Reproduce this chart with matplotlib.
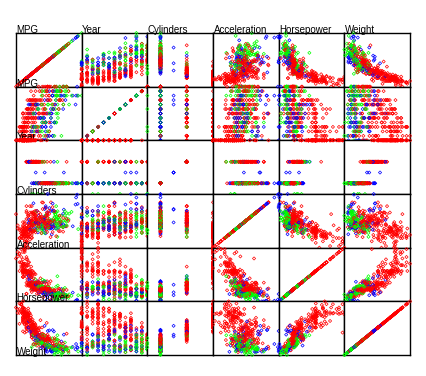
import matplotlib
matplotlib.use("Agg")
import matplotlib.pyplot as plt

# Car data, grouped by model year (origin: 1 = USA, 2 = Europe, 3 = Japan)
mpg = [
    18, 15, 18, 16, 17, 15, 14, 14, 14, 15, 15, 14, 15, 14, 24, 22, 18, 21, 27, 26, 25, 24, 25, 26, 21, 10, 10, 11, 9,
    27, 28, 25, 19, 16, 17, 19, 18, 14, 14, 14, 14, 12, 13, 13, 18, 22, 19, 18, 23, 28, 30, 30, 31, 35, 27, 26,
    24, 20, 21, 13, 14, 15, 14, 17, 11, 13, 12, 13, 19, 15, 13, 13, 14, 18, 22, 21, 26, 22, 28, 23, 28, 27,
    13, 14, 13, 14, 15, 12, 13, 13, 14, 13, 12, 13, 18, 16, 18, 18, 23, 26, 11, 12, 13, 12, 18, 20, 21, 22, 18, 19, 21, 26, 15, 16, 29, 24, 20, 19, 15, 24, 20, 11,
    20, 19, 15, 31, 26, 32, 25, 16, 16, 18, 16, 13, 14, 14, 14, 29, 26, 26, 31, 32, 28, 24, 26, 24, 26, 31,
    19, 18, 15, 15, 16, 15, 16, 14, 17, 16, 15, 18, 21, 20, 13, 29, 23, 20, 23, 24, 25, 24, 18, 29, 19, 23, 23, 22, 25, 33,
    28, 25, 25, 26, 27, 17.5, 16, 15.5, 14.5, 22, 22, 24, 22.5, 29, 24.5, 29, 33, 20, 18, 18.5, 17.5, 29.5, 32, 28, 26.5, 20, 13, 19, 19, 16.5, 16.5, 13, 13, 13,
    31.5, 30, 36, 25.5, 33.5, 17.5, 17, 15.5, 15, 17.5, 20.5, 19, 18.5, 16, 15.5, 15.5, 16, 29, 24.5, 26, 25.5, 30.5, 33.5, 30, 30.5, 22, 21.5, 21.5,
    43.1, 36.1, 32.8, 39.4, 36.1, 19.9, 19.4, 20.2, 19.2, 20.5, 20.2, 25.1, 20.5, 19.4, 20.6, 20.8, 18.6, 18.1, 19.2, 17.7, 18.1, 17.5, 30, 27.5, 27.2, 30.9, 21.1, 23.2, 23.8, 23.9, 20.3, 17, 21.6, 16.2, 31.5, 29.5,
    21.5, 19.8, 22.3, 20.2, 20.6, 17, 17.6, 16.5, 18.2, 16.9, 15.5, 19.2, 18.5, 31.9, 34.1, 35.7, 27.4, 25.4, 23, 27.2, 23.9, 34.2, 34.5, 31.8, 37.3, 28.4, 28.8, 26.8, 33.5,
    41.5, 38.1, 32.1, 37.2, 28, 26.4, 24.3, 19.1, 34.3, 29.8, 31.3, 37, 32.2, 46.6, 27.9, 40.8, 44.3, 43.4, 36.4, 30, 44.6, 33.8, 29.8, 32.7, 23.7, 35, 32.4,
    27.2, 26.6, 25.8, 23.5, 30, 39.1, 39, 35.1, 32.3, 37, 37.7, 34.1, 34.7, 34.4, 29.9, 33, 33.7, 32.4, 32.9, 31.6, 28.1, 30.7, 25.4, 24.2, 22.4, 26.6, 20.2, 17.6,
    28, 27, 34, 31, 29, 27, 24, 36, 37, 31, 38, 36, 36, 36, 34, 38, 32, 38, 25, 38, 26, 22, 32, 36, 27, 27, 44, 32, 28, 31,
]
year = [
    70, 70, 70, 70, 70, 70, 70, 70, 70, 70, 70, 70, 70, 70, 70, 70, 70, 70, 70, 70, 70, 70, 70, 70, 70, 70, 70, 70, 70,
    71, 71, 71, 71, 71, 71, 71, 71, 71, 71, 71, 71, 71, 71, 71, 71, 71, 71, 71, 71, 71, 71, 71, 71, 71, 71, 71,
    72, 72, 72, 72, 72, 72, 72, 72, 72, 72, 72, 72, 72, 72, 72, 72, 72, 72, 72, 72, 72, 72, 72, 72, 72, 72,
    73, 73, 73, 73, 73, 73, 73, 73, 73, 73, 73, 73, 73, 73, 73, 73, 73, 73, 73, 73, 73, 73, 73, 73, 73, 73, 73, 73, 73, 73, 73, 73, 73, 73, 73, 73, 73, 73, 73, 73,
    74, 74, 74, 74, 74, 74, 74, 74, 74, 74, 74, 74, 74, 74, 74, 74, 74, 74, 74, 74, 74, 74, 74, 74, 74, 74,
    75, 75, 75, 75, 75, 75, 75, 75, 75, 75, 75, 75, 75, 75, 75, 75, 75, 75, 75, 75, 75, 75, 75, 75, 75, 75, 75, 75, 75, 75,
    76, 76, 76, 76, 76, 76, 76, 76, 76, 76, 76, 76, 76, 76, 76, 76, 76, 76, 76, 76, 76, 76, 76, 76, 76, 76, 76, 76, 76, 76, 76, 76, 76, 76,
    77, 77, 77, 77, 77, 77, 77, 77, 77, 77, 77, 77, 77, 77, 77, 77, 77, 77, 77, 77, 77, 77, 77, 77, 77, 77, 77, 77,
    78, 78, 78, 78, 78, 78, 78, 78, 78, 78, 78, 78, 78, 78, 78, 78, 78, 78, 78, 78, 78, 78, 78, 78, 78, 78, 78, 78, 78, 78, 78, 78, 78, 78, 78, 78,
    79, 79, 79, 79, 79, 79, 79, 79, 79, 79, 79, 79, 79, 79, 79, 79, 79, 79, 79, 79, 79, 79, 79, 79, 79, 79, 79, 79, 79,
    80, 80, 80, 80, 80, 80, 80, 80, 80, 80, 80, 80, 80, 80, 80, 80, 80, 80, 80, 80, 80, 80, 80, 80, 80, 80, 80,
    81, 81, 81, 81, 81, 81, 81, 81, 81, 81, 81, 81, 81, 81, 81, 81, 81, 81, 81, 81, 81, 81, 81, 81, 81, 81, 81, 81,
    82, 82, 82, 82, 82, 82, 82, 82, 82, 82, 82, 82, 82, 82, 82, 82, 82, 82, 82, 82, 82, 82, 82, 82, 82, 82, 82, 82, 82, 82,
]
cylinders = [
    8, 8, 8, 8, 8, 8, 8, 8, 8, 8, 8, 8, 8, 8, 4, 6, 6, 6, 4, 4, 4, 4, 4, 4, 6, 8, 8, 8, 8,
    4, 4, 4, 6, 6, 6, 6, 6, 8, 8, 8, 8, 8, 8, 8, 6, 4, 6, 6, 4, 4, 4, 4, 4, 4, 4, 4,
    4, 4, 4, 8, 8, 8, 8, 8, 8, 8, 8, 8, 3, 8, 8, 8, 8, 4, 4, 4, 4, 4, 4, 4, 4, 4,
    8, 8, 8, 8, 8, 8, 8, 8, 8, 8, 8, 8, 6, 6, 6, 6, 6, 4, 8, 8, 8, 8, 6, 4, 4, 4, 3, 4, 6, 4, 8, 8, 4, 4, 4, 4, 8, 4, 6, 8,
    6, 6, 6, 4, 4, 4, 4, 6, 6, 6, 8, 8, 8, 8, 8, 4, 4, 4, 4, 4, 4, 4, 4, 4, 4, 4,
    6, 6, 6, 6, 8, 8, 8, 8, 6, 6, 6, 6, 6, 8, 8, 4, 4, 6, 4, 4, 4, 4, 6, 4, 6, 4, 4, 4, 4, 4,
    4, 4, 4, 4, 4, 8, 8, 8, 8, 6, 6, 6, 6, 4, 4, 4, 4, 6, 6, 6, 6, 4, 4, 4, 4, 4, 8, 4, 6, 6, 8, 8, 8, 8,
    4, 4, 4, 4, 4, 8, 8, 8, 8, 6, 6, 6, 6, 8, 8, 8, 8, 4, 4, 4, 4, 4, 4, 4, 4, 6, 4, 3,
    4, 4, 4, 4, 4, 8, 8, 8, 6, 6, 6, 4, 6, 6, 6, 6, 6, 6, 8, 6, 8, 8, 4, 4, 4, 4, 4, 4, 4, 4, 5, 6, 4, 6, 4, 4,
    6, 6, 4, 6, 6, 8, 8, 8, 8, 8, 8, 8, 8, 4, 4, 4, 4, 5, 8, 4, 8, 4, 4, 4, 4, 4, 6, 6, 4,
    4, 4, 4, 4, 4, 4, 4, 6, 4, 4, 4, 4, 4, 4, 4, 4, 4, 4, 5, 4, 4, 4, 4, 6, 3, 4, 4,
    4, 4, 4, 6, 4, 4, 4, 4, 4, 4, 4, 4, 4, 4, 4, 4, 4, 4, 4, 4, 4, 6, 6, 6, 6, 8, 6, 6,
    4, 4, 4, 4, 4, 4, 4, 4, 4, 4, 4, 4, 4, 4, 4, 4, 4, 4, 6, 6, 4, 6, 4, 4, 4, 4, 4, 4, 4, 4,
]
acceleration = [
    12.0, 11.5, 11.0, 12.0, 10.5, 10.0, 9.0, 8.5, 10.0, 8.5, 10.0, 8.0, 9.5, 10.0, 15.0, 15.5, 15.5, 16.0, 14.5, 20.5, 17.5, 14.5, 17.5, 12.5, 15.0, 14.0, 15.0, 13.5, 18.5,
    14.5, 15.5, 14.0, 13.0, 15.5, 15.5, 15.5, 15.5, 12.0, 11.5, 13.5, 13.0, 11.5, 12.0, 12.0, 13.5, 19.0, 15.0, 14.5, 14.0, 14.0, 19.5, 14.5, 19.0, 18.0, 19.0, 20.5,
    15.5, 19.5, 16.5, 12.0, 12.0, 13.5, 13.0, 11.5, 11.0, 13.5, 13.5, 12.5, 13.5, 12.5, 14.0, 16.0, 14.0, 14.5, 18.0, 19.5, 18.0, 16.0, 17.0, 14.5, 15.0, 16.5,
    13.0, 11.5, 13.0, 14.5, 12.5, 11.5, 12.0, 13.0, 14.5, 11.0, 11.0, 11.0, 16.5, 18.0, 16.0, 16.5, 16.0, 21.0, 14.0, 12.5, 13.0, 12.5, 15.0, 19.0, 19.5, 16.5, 13.5, 18.5, 14.0, 15.5, 13.0, 9.5, 19.5, 15.5, 14.0, 15.5, 11.0, 14.0, 13.5, 11.0,
    16.5, 16.0, 17.0, 19.0, 16.5, 21.0, 17.0, 17.0, 18.0, 16.5, 14.0, 14.5, 13.5, 16.0, 15.5, 16.5, 15.5, 14.5, 16.5, 19.0, 14.5, 15.5, 14.0, 15.0, 15.5, 16.0,
    16.0, 16.0, 21.0, 19.5, 11.5, 14.0, 14.5, 13.5, 21.0, 18.5, 19.0, 19.0, 15.0, 13.5, 12.0, 16.0, 17.0, 16.0, 18.5, 13.5, 16.5, 17.0, 14.5, 14.0, 17.0, 15.0, 17.0, 14.5, 13.5, 17.5,
    15.5, 16.9, 14.9, 17.7, 15.3, 13.0, 13.0, 13.9, 12.8, 15.4, 14.5, 17.6, 17.6, 22.2, 22.1, 14.2, 17.4, 17.7, 21.0, 16.2, 17.8, 12.2, 17.0, 16.4, 13.6, 15.7, 13.2, 21.9, 15.5, 16.7, 12.1, 12.0, 15.0, 14.0,
    18.5, 14.8, 18.6, 15.5, 16.8, 12.5, 19.0, 13.7, 14.9, 16.4, 16.9, 17.7, 19.0, 11.1, 11.4, 12.2, 14.5, 14.5, 16.0, 18.2, 15.8, 17.0, 15.9, 16.4, 14.1, 14.5, 12.8, 13.5,
    21.5, 14.4, 19.4, 18.6, 16.4, 15.5, 13.2, 12.8, 19.2, 18.2, 15.8, 15.4, 17.2, 17.2, 15.8, 16.7, 18.7, 15.1, 13.2, 13.4, 11.2, 13.7, 16.5, 14.2, 14.7, 14.5, 14.8, 16.7, 17.6, 14.9, 15.9, 13.6, 15.7, 15.8, 14.9, 16.6,
    15.4, 18.2, 17.3, 18.2, 16.6, 15.4, 13.4, 13.2, 15.2, 14.9, 14.3, 15.0, 13.0, 14.0, 15.2, 14.4, 15.0, 20.1, 17.4, 24.8, 22.2, 13.2, 14.9, 19.2, 14.7, 16.0, 11.3, 12.9, 13.2,
    14.7, 18.8, 15.5, 16.4, 16.5, 18.1, 20.1, 18.7, 15.8, 15.5, 17.5, 15.0, 15.2, 17.9, 14.4, 19.2, 21.7, 23.7, 19.9, 21.8, 13.8, 18.0, 15.3, 11.4, 12.5, 15.1, 17.0,
    15.7, 16.4, 14.4, 12.6, 12.9, 16.9, 16.4, 16.1, 17.8, 19.4, 17.3, 16.0, 14.9, 16.2, 20.7, 14.2, 14.4, 16.8, 14.8, 18.3, 20.4, 19.6, 12.6, 13.8, 15.8, 19.0, 17.1, 16.6,
    19.6, 18.6, 18.0, 16.2, 16.0, 18.0, 16.4, 15.3, 18.2, 17.6, 14.7, 17.3, 14.5, 14.5, 16.9, 15.0, 15.7, 16.2, 16.4, 17.0, 14.5, 14.7, 13.9, 13.0, 17.3, 15.6, 24.6, 11.6, 18.6, 19.4,
]
horsepower = [
    130, 165, 150, 150, 140, 198, 220, 215, 225, 190, 170, 160, 150, 225, 95, 95, 97, 85, 88, 46, 87, 90, 95, 113, 90, 215, 200, 210, 193,
    88, 90, 95, 100, 105, 100, 88, 100, 165, 175, 153, 150, 180, 170, 175, 110, 72, 100, 88, 86, 90, 70, 76, 65, 69, 60, 70,
    95, 90, 86, 165, 175, 150, 153, 150, 208, 155, 160, 190, 97, 150, 130, 140, 150, 112, 76, 87, 69, 86, 92, 97, 80, 88,
    175, 150, 145, 137, 150, 198, 150, 158, 150, 215, 225, 175, 105, 100, 100, 88, 95, 46, 150, 167, 170, 180, 100, 88, 72, 94, 90, 85, 107, 90, 145, 230, 49, 75, 91, 112, 150, 110, 122, 180,
    95, 100, 100, 67, 80, 65, 75, 100, 110, 105, 140, 150, 150, 140, 150, 83, 67, 78, 52, 61, 75, 75, 75, 97, 93, 67,
    95, 105, 72, 72, 170, 145, 150, 148, 110, 105, 110, 95, 110, 110, 129, 75, 83, 100, 78, 96, 71, 97, 97, 70, 90, 95, 88, 98, 115, 53,
    86, 81, 92, 79, 83, 140, 150, 120, 152, 100, 105, 81, 90, 52, 60, 70, 53, 100, 78, 110, 95, 71, 70, 75, 72, 102, 150, 88, 108, 120, 180, 145, 130, 150,
    68, 80, 58, 96, 70, 145, 110, 145, 130, 110, 105, 100, 98, 180, 170, 190, 149, 78, 88, 75, 89, 63, 83, 67, 78, 97, 110, 110,
    48, 66, 52, 70, 60, 110, 140, 139, 105, 95, 85, 88, 100, 90, 105, 85, 110, 120, 145, 165, 139, 140, 68, 95, 97, 75, 95, 105, 85, 97, 103, 125, 115, 133, 71, 68,
    115, 85, 88, 90, 110, 130, 129, 138, 135, 155, 142, 125, 150, 71, 65, 80, 80, 77, 125, 71, 90, 70, 70, 65, 69, 90, 115, 115, 90,
    76, 60, 70, 65, 90, 88, 90, 90, 78, 90, 75, 92, 75, 65, 105, 65, 48, 48, 67, 67, 67, 67, 62, 132, 100, 88, 72,
    84, 84, 92, 110, 84, 58, 64, 60, 67, 65, 62, 68, 63, 65, 65, 74, 75, 75, 100, 74, 80, 76, 116, 120, 110, 105, 88, 85,
    88, 88, 88, 85, 84, 90, 92, 74, 68, 68, 63, 70, 88, 75, 70, 67, 67, 67, 110, 85, 92, 112, 96, 84, 90, 86, 52, 84, 79, 82,
]
weight = [
    3504, 3693, 3436, 3433, 3449, 4341, 4354, 4312, 4425, 3850, 3563, 3609, 3761, 3086, 2372, 2833, 2774, 2587, 2130, 1835, 2672, 2430, 2375, 2234, 2648, 4615, 4376, 4382, 4732,
    2130, 2264, 2228, 2634, 3439, 3329, 3302, 3288, 4209, 4464, 4154, 4096, 4955, 4746, 5140, 2962, 2408, 3282, 3139, 2220, 2123, 2074, 2065, 1773, 1613, 1834, 1955,
    2278, 2408, 2226, 4274, 4385, 4135, 4129, 3672, 4633, 4502, 4456, 4422, 2330, 3892, 4098, 4294, 4077, 2933, 2511, 2979, 2189, 2395, 2288, 2506, 2164, 2100,
    4100, 3672, 3988, 4042, 3777, 4952, 4464, 4363, 4237, 4735, 4951, 3821, 3121, 3278, 2945, 3021, 2904, 1950, 4997, 4906, 4654, 4499, 2789, 2279, 2401, 2379, 2124, 2310, 2472, 2265, 4082, 4278, 1867, 2158, 2582, 2868, 3399, 2660, 2807, 3664,
    3102, 2901, 3336, 1950, 2451, 1836, 2542, 3781, 3632, 3613, 4141, 4699, 4457, 4638, 4257, 2219, 1963, 2300, 1649, 2003, 2125, 2108, 2246, 2489, 2391, 2000,
    3264, 3459, 3432, 3158, 4668, 4440, 4498, 4657, 3907, 3897, 3730, 3785, 3039, 3221, 3169, 2171, 2639, 2914, 2592, 2702, 2223, 2545, 2984, 1937, 3211, 2694, 2957, 2945, 2671, 1795,
    2464, 2220, 2572, 2255, 2202, 4215, 4190, 3962, 4215, 3233, 3353, 3012, 3085, 2035, 2164, 1937, 1795, 3651, 3574, 3645, 3193, 1825, 1990, 2155, 2565, 3150, 3940, 3270, 2930, 3820, 4380, 4055, 3870, 3755,
    2045, 2155, 1825, 2300, 1945, 3880, 4060, 4140, 4295, 3520, 3425, 3630, 3525, 4220, 4165, 4325, 4335, 1940, 2740, 2265, 2755, 2051, 2075, 1985, 2190, 2815, 2600, 2720,
    1985, 1800, 1985, 2070, 1800, 3365, 3735, 3570, 3535, 3155, 2965, 2720, 3430, 3210, 3380, 3070, 3620, 3410, 3425, 3445, 3205, 4080, 2155, 2560, 2300, 2230, 2515, 2745, 2855, 2405, 2830, 3140, 2795, 3410, 1990, 2135,
    3245, 2990, 2890, 3265, 3360, 3840, 3725, 3955, 3830, 4360, 4054, 3605, 3940, 1925, 1975, 1915, 2670, 3530, 3900, 3190, 3420, 2200, 2150, 2020, 2130, 2670, 2595, 2700, 2556,
    2144, 1968, 2120, 2019, 2678, 2870, 3003, 3381, 2188, 2711, 2542, 2434, 2265, 2110, 2800, 2110, 2085, 2335, 2950, 3250, 1850, 2145, 1845, 2910, 2420, 2500, 2290,
    2490, 2635, 2620, 2725, 2385, 1755, 1875, 1760, 2065, 1975, 2050, 1985, 2215, 2045, 2380, 2190, 2210, 2350, 2615, 2635, 3230, 3160, 2900, 2930, 3415, 3725, 3060, 3465,
    2605, 2640, 2395, 2575, 2525, 2735, 2865, 1980, 2025, 1970, 2125, 2125, 2160, 2205, 2245, 1965, 1965, 1995, 2945, 3015, 2585, 2835, 2665, 2370, 2950, 2790, 2130, 2295, 2625, 2720,
]
origin = [
    1, 1, 1, 1, 1, 1, 1, 1, 1, 1, 1, 1, 1, 1, 3, 1, 1, 1, 3, 2, 2, 2, 2, 2, 1, 1, 1, 1, 1,
    3, 1, 3, 1, 1, 1, 1, 1, 1, 1, 1, 1, 1, 1, 1, 1, 1, 1, 1, 1, 2, 2, 2, 3, 3, 2, 1,
    3, 1, 1, 1, 1, 1, 1, 1, 1, 1, 1, 1, 3, 1, 1, 1, 1, 2, 2, 2, 2, 1, 3, 3, 1, 3,
    1, 1, 1, 1, 1, 1, 1, 1, 1, 1, 1, 1, 1, 1, 1, 1, 1, 2, 1, 1, 1, 1, 1, 3, 1, 3, 3, 1, 1, 2, 1, 1, 2, 2, 2, 2, 1, 2, 3, 1,
    1, 1, 1, 3, 1, 3, 1, 1, 1, 1, 1, 1, 1, 1, 1, 2, 2, 2, 3, 3, 1, 2, 2, 3, 3, 2,
    1, 1, 1, 1, 1, 1, 1, 1, 1, 1, 1, 1, 1, 1, 1, 3, 1, 1, 1, 3, 2, 3, 1, 2, 1, 2, 2, 2, 2, 3,
    2, 2, 1, 1, 2, 1, 1, 1, 1, 1, 1, 1, 1, 1, 1, 2, 3, 1, 1, 1, 1, 2, 3, 3, 1, 2, 1, 2, 3, 2, 1, 1, 1, 1,
    3, 1, 2, 1, 3, 1, 1, 1, 1, 1, 1, 1, 1, 1, 1, 1, 1, 2, 1, 3, 1, 1, 1, 3, 2, 3, 2, 3,
    2, 1, 3, 3, 3, 1, 1, 1, 1, 1, 1, 1, 1, 1, 1, 1, 1, 1, 1, 1, 1, 1, 1, 3, 3, 1, 3, 1, 1, 3, 2, 2, 2, 2, 2, 3,
    1, 1, 1, 1, 1, 1, 1, 1, 1, 1, 1, 1, 1, 2, 3, 1, 1, 2, 1, 2, 1, 1, 1, 3, 2, 1, 1, 1, 1,
    2, 3, 1, 3, 1, 1, 1, 1, 2, 3, 3, 3, 3, 3, 1, 3, 2, 2, 2, 2, 3, 3, 2, 3, 3, 2, 3,
    1, 1, 1, 1, 1, 3, 1, 3, 3, 3, 3, 3, 1, 1, 1, 2, 3, 3, 3, 3, 2, 2, 3, 3, 1, 1, 1, 1,
    1, 1, 1, 1, 1, 1, 1, 2, 3, 3, 1, 1, 3, 3, 3, 3, 3, 3, 1, 1, 1, 1, 3, 1, 1, 1, 2, 1, 1, 1,
]

names = ["MPG", "Year", "Cylinders", "Acceleration", "Horsepower", "Weight"]
columns = [mpg, year, cylinders, acceleration, horsepower, weight]
origin_colors = {1: "#ff0000", 2: "#0000ff", 3: "#00ff00"}

n = len(mpg)
assert all(len(c) == n for c in columns + [origin]), [len(c) for c in columns + [origin]]

colors = [origin_colors[o] for o in origin]

W, H = 427, 376
fig = plt.figure(figsize=(W / 100, H / 100), dpi=100)
axes = fig.subplots(
    6, 6,
    gridspec_kw=dict(left=16 / W, right=410 / W, top=1 - 33 / H, bottom=1 - 355 / H,
                     wspace=0, hspace=0),
)

for i in range(6):
    for j in range(6):
        ax = axes[i, j]
        xs, ys = columns[j], columns[i]
        ax.scatter(xs, ys, s=2.6, marker="D", facecolors="none", edgecolors=colors,
                   linewidths=0.5, clip_on=False, zorder=3)
        ax.set_xlim(min(xs), max(xs))
        ax.set_ylim(min(ys), max(ys))
        ax.set_xticks([])
        ax.set_yticks([])
        for sp in ax.spines.values():
            sp.set_linewidth(1.0)
            sp.set_color("black")

label_font = dict(family="Liberation Sans", fontsize=7, color="black", zorder=5)
for j, name in enumerate(names):
    axes[0, j].text(0.01, 1.0, name, transform=axes[0, j].transAxes,
                    ha="left", va="baseline", **label_font)
for i, name in enumerate(names):
    axes[i, 0].text(0.01, 0.0, name, transform=axes[i, 0].transAxes,
                    ha="left", va="baseline", **label_font)

fig.savefig("out.png", dpi=100)
